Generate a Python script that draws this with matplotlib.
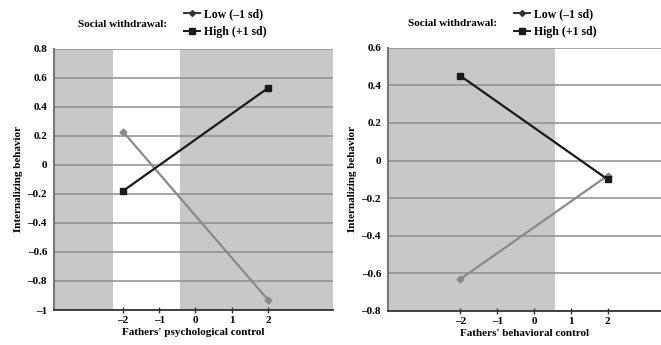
#!/usr/bin/env python3
"""Simple slopes of internalizing behavior by fathers' control and social withdrawal."""

import matplotlib

matplotlib.use("Agg")
import matplotlib.pyplot as plt
from matplotlib.lines import Line2D

plt.rcParams["font.family"] = ["Liberation Serif", "DejaVu Serif"]
plt.rcParams["font.weight"] = "bold"
plt.rcParams["axes.labelweight"] = "bold"

# data
control_levels = [-2, 2]
psych_low = [0.23, -0.93]
psych_high = [-0.18, 0.53]
behav_low = [-0.63, -0.08]
behav_high = [0.45, -0.10]

x_ticks = [-2, -1, 0, 1, 2]
psych_yticks = [0.8, 0.6, 0.4, 0.2, 0, -0.2, -0.4, -0.6, -0.8, -1]
behav_yticks = [0.6, 0.4, 0.2, 0, -0.2, -0.4, -0.6, -0.8]

# non-significant (white) region bounds on the x axis
psych_white = (-2.28, -0.42)
behav_white = (0.57, 3.45)

GRAY_BG = "#c8c8c8"
GRID = "#8e8e8e"
LOW_C = "#8a8a8a"
HIGH_C = "#1a1a1a"


def fmt(v):
    if v == 0:
        return "0"
    if v == int(v):
        return f"{int(v)}".replace("-", "\u2013")
    return f"{v:.1f}".replace("-", "\u2013")


def draw_panel(ax, low, high, yticks, white, xlim, xlabel):
    ax.set_xlim(*xlim)
    ax.set_ylim(yticks[-1], yticks[0])
    ax.axvspan(xlim[0], xlim[1], color=GRAY_BG, zorder=0, lw=0)
    ax.axvspan(white[0], white[1], color="white", zorder=0.5, lw=0)
    for y in yticks:
        ax.axhline(y, color=GRID, lw=1.1, zorder=1)

    ax.plot(control_levels, low, color=LOW_C, lw=1.6, marker="D", ms=3.5,
            mfc=LOW_C, mec=LOW_C, zorder=3)
    ax.plot(control_levels, high, color=HIGH_C, lw=1.6, marker="s", ms=4.5,
            mfc=HIGH_C, mec=HIGH_C, zorder=4)

    ax.set_xticks(x_ticks)
    ax.set_xticklabels([fmt(t) for t in x_ticks], fontsize=8)
    ax.set_yticks(yticks)
    ax.set_yticklabels([fmt(t) for t in yticks], fontsize=8)
    ax.tick_params(axis="x", direction="inout", length=5, width=1, color="#333333", pad=2)
    ax.tick_params(axis="y", length=0, pad=5)
    for side in ("top", "right"):
        ax.spines[side].set_visible(False)
    ax.spines["left"].set_color("#777777")
    ax.spines["left"].set_linewidth(1.5)
    ax.spines["bottom"].set_color("#333333")
    ax.spines["bottom"].set_linewidth(1.3)
    ax.set_xlabel(xlabel, fontsize=8, labelpad=2)
    ax.set_ylabel("Internalizing behavior", fontsize=8, labelpad=3)


def add_legend(fig, text_x, text_y, leg_x, leg_y):
    fig.text(text_x, text_y, "Social withdrawal:", fontsize=8, ha="left", va="center")
    handles = [
        Line2D([], [], color="#333333", lw=1.4, marker="D", ms=3, mfc="#333333"),
        Line2D([], [], color=HIGH_C, lw=1.4, marker="s", ms=4.5, mfc=HIGH_C),
    ]
    fig.legend(handles, ["Low (\u20131 sd)", "High (+1 sd)"], loc="upper left",
               bbox_to_anchor=(leg_x, leg_y), frameon=False, fontsize=8.5,
               handlelength=1.4, handletextpad=0.3, labelspacing=0.45,
               borderpad=0, borderaxespad=0)


fig = plt.figure(figsize=(6.61, 3.45), dpi=100)
ax1 = fig.add_axes([0.0817, 0.1014, 0.422, 0.757])
ax2 = fig.add_axes([0.587, 0.0986, 0.413, 0.763])

draw_panel(ax1, psych_low, psych_high, psych_yticks, psych_white, (-3.9, 3.79),
           "Fathers' psychological control")
draw_panel(ax2, behav_low, behav_high, behav_yticks, behav_white, (-3.97, 3.45),
           "Fathers' behavioral control")

add_legend(fig, 0.118, 0.93, 0.278, 0.975)
add_legend(fig, 0.618, 0.932, 0.777, 0.975)

fig.savefig("out.png", dpi=100)
